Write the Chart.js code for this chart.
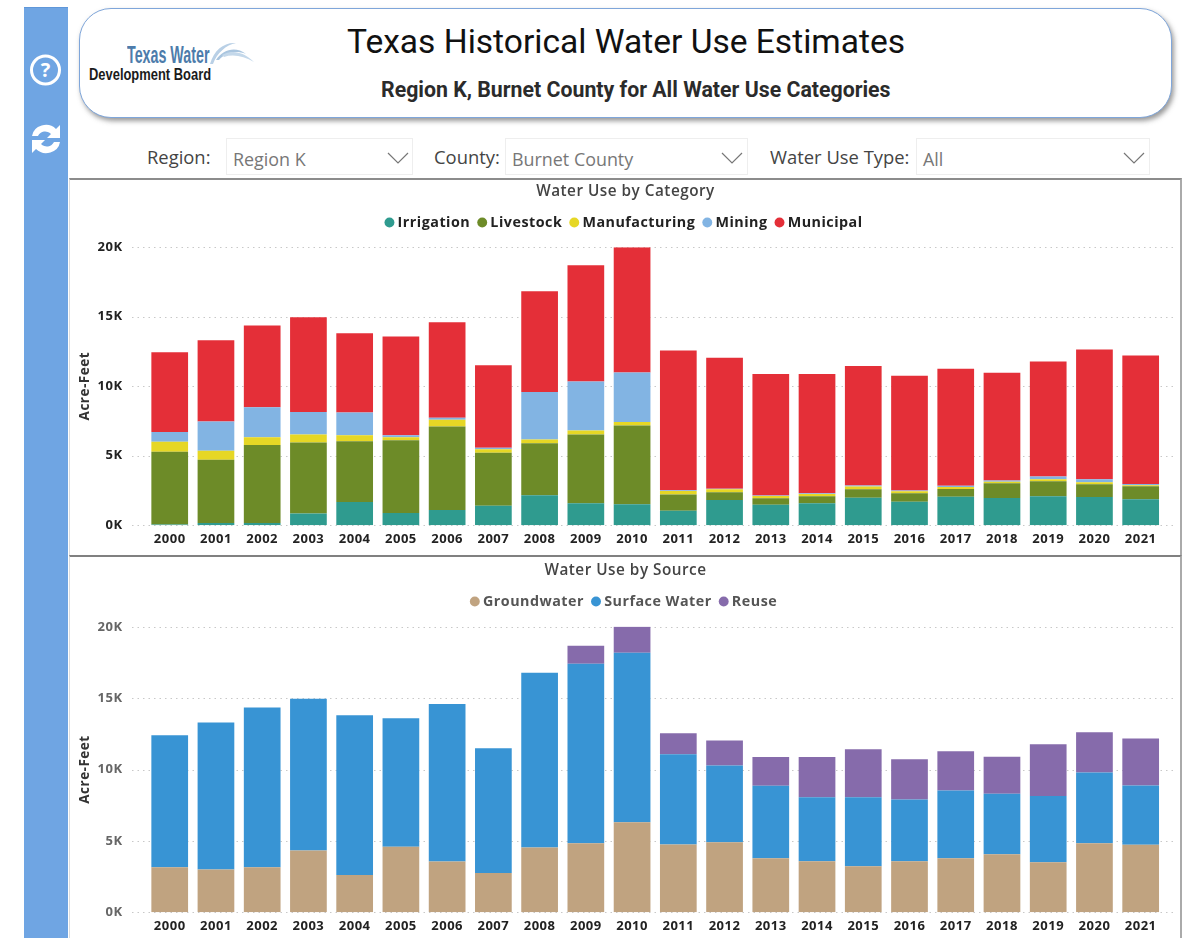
<!DOCTYPE html>
<html>
<head>
<meta charset="utf-8">
<title>Texas Historical Water Use Estimates</title>
<script src="https://cdn.jsdelivr.net/npm/chart.js@4"></script>
<style>
  html, body { margin: 0; padding: 0; background: #fff; overflow: hidden; }
  body { width: 1190px; height: 938px; position: relative; font-family: "Open Sans", sans-serif; }
  .abs { position: absolute; white-space: nowrap; }
  #sidebar { left: 24px; top: 7px; width: 44px; height: 931px; background: #6fa5e3; border-top: 1px solid #5f97d9; box-sizing: border-box; }
  #header { left: 79px; top: 8px; width: 1093px; height: 110px; box-sizing: border-box; border: 1.5px solid #7fa6da; border-radius: 32px; background: #fff; box-shadow: 2px 3px 5px rgba(70, 70, 70, .55); }
  #title { left: 347px; top: 22px; font: 400 33.55px "Roboto", sans-serif; color: #111; }
  #subtitle { left: 381px; top: 77px; font: 700 21.3px "Roboto", sans-serif; color: #2b2b2b; }
  #logo1 { left: 127px; top: 42px; font: 700 23px "Liberation Sans", sans-serif; color: #4d7cab; transform-origin: left top; transform: scaleX(.62); }
  #logo2 { left: 89px; top: 65px; font: 700 17px "Liberation Sans", sans-serif; color: #1b1b1b; transform-origin: left top; transform: scaleX(.76); }
  .lbl { font-size: 18.4px; color: #444; top: 144px; }
  .box { top: 138px; height: 37px; box-sizing: border-box; border: 1px solid #eee; }
  .val { font-size: 17.9px; color: #777; top: 147px; }
  #frame1, #frame2 { left: 69px; width: 1113px; box-sizing: border-box; border-left: 1px solid #ddd; border-right: 2px solid #aaa; }
  #frame1 { top: 178px; height: 378px; border-top: 2px solid #8c8c8c; }
  #frame2 { top: 555px; height: 383px; border-top: 2px solid #808080; }
  canvas { position: absolute; left: 70px; }
  #categoryChart { top: 180px; }
  #sourceChart { top: 558px; }
</style>
</head>
<body>
<div class="abs" id="sidebar"></div>
<svg class="abs" style="left:24px;top:50px" width="44" height="110" viewBox="0 0 44 110">
  <circle cx="21.5" cy="20" r="14" fill="none" stroke="#fff" stroke-width="3"/>
  <text x="21.5" y="27" text-anchor="middle" font-family="Open Sans" font-weight="700" font-size="20" fill="#fff">?</text>
  <path d="M8 86 a14 13 0 0 1 24 -7 l4 -4 v13 h-13 l4 -4 a8 8 0 0 0 -13 2 z" fill="#fff"/>
  <path d="M36 92 a14 13 0 0 1 -24 7 l-4 4 v-13 h13 l-4 4 a8 8 0 0 0 13 -2 z" fill="#fff"/>
</svg>
<div class="abs" id="header"></div>
<div class="abs" id="title">Texas Historical Water Use Estimates</div>
<div class="abs" id="subtitle">Region K, Burnet County for All Water Use Categories</div>
<div class="abs" id="logo1">Texas Water</div>
<div class="abs" id="logo2">Development Board</div>
<svg class="abs" style="left:208px;top:40px" width="48" height="26" viewBox="0 0 48 26">
  <path d="M2 24 C6 10 16 2 28 3 C18 5 9 13 5 24 Z" fill="#b9d0e6"/>
  <path d="M8 20 C15 9 28 6 38 14 C28 10 18 12 11 20 Z" fill="#a9c5df"/>
  <path d="M14 15 C24 9 36 12 46 22 C36 16 25 14 16 17 Z" fill="#c4d8ea"/>
</svg>

<div class="abs lbl" style="left:147px">Region:</div>
<div class="abs box" style="left:226px;width:187px"></div>
<div class="abs val" style="left:233px">Region K</div>
<div class="abs lbl" style="left:434px">County:</div>
<div class="abs box" style="left:505px;width:243px"></div>
<div class="abs val" style="left:512px">Burnet County</div>
<div class="abs lbl" style="left:770px">Water Use Type:</div>
<div class="abs box" style="left:916px;width:234px"></div>
<div class="abs val" style="left:923px">All</div>
<svg class="abs" style="left:0;top:150px" width="1190" height="20">
  <path d="M388 3 l10 10 l10 -10 M722 3 l10 10 l10 -10 M1124 3 l10 10 l10 -10" fill="none" stroke="#777" stroke-width="1.2"/>
</svg>

<div class="abs" id="frame1"></div>
<div class="abs" id="frame2"></div>
<canvas id="categoryChart" width="1111" height="377"></canvas>
<canvas id="sourceChart" width="1111" height="386"></canvas>

<script>
const years = ["2000", "2001", "2002", "2003", "2004", "2005", "2006", "2007", "2008", "2009", "2010",
    "2011", "2012", "2013", "2014", "2015", "2016", "2017", "2018", "2019", "2020", "2021"];

// Water use by category, acre-feet
const irrigation = [50, 150, 150, 850, 1670, 870, 1090, 1400, 2150, 1570, 1500, 1040, 1810, 1470, 1570, 1980, 1690, 2050, 1960, 2080, 2030, 1860];
const livestock = [5240, 4550, 5620, 5090, 4370, 5240, 6010, 3820, 3740, 4950, 5670, 1160, 560, 460, 510, 600, 600, 560, 1060, 1080, 920, 940];
const manufacturing = [710, 660, 560, 580, 430, 220, 480, 240, 270, 290, 250, 260, 210, 170, 170, 200, 150, 140, 100, 150, 140, 70];
const mining = [700, 2100, 2150, 1620, 1630, 140, 150, 120, 3430, 3530, 3570, 50, 50, 30, 50, 70, 50, 80, 90, 190, 220, 100];
const municipal = [5740, 5840, 5890, 6810, 5700, 7100, 6870, 5920, 7240, 8360, 9010, 10050, 9420, 8740, 8570, 8600, 8260, 8430, 7750, 8270, 9320, 9230];

// Water use by source, acre-feet
const groundwater = [3150, 3000, 3150, 4320, 2610, 4580, 3550, 2750, 4540, 4840, 6300, 4750, 4910, 3780, 3570, 3220, 3570, 3780, 4070, 3500, 4840, 4720];
const surfaceWater = [9260, 10300, 11200, 10640, 11190, 9020, 11050, 8740, 12240, 12570, 11890, 6320, 5380, 5080, 4490, 4840, 4330, 4750, 4230, 4650, 4960, 4160];
const reuse = [0, 0, 0, 0, 0, 0, 0, 0, 0, 1270, 1830, 1480, 1740, 2020, 2820, 3360, 2820, 2750, 2600, 3620, 2820, 3290];

const uiFont = '"Open Sans", sans-serif';

// gridlines run past the category band on both sides, so they are drawn here from the y scale
const dottedGrid = {
    id: "dottedGrid",
    beforeUpdate(chart) {
        chart.ctx.letterSpacing = "0.5px";
    },
    beforeDatasetsDraw(chart) {
        const ctx = chart.ctx;
        const yScale = chart.scales.y;
        ctx.save();
        ctx.strokeStyle = "#c8c8c8";
        ctx.lineWidth = 1;
        ctx.setLineDash([1.5, 4]);
        yScale.ticks.forEach(function (tick) {
            const y = Math.round(yScale.getPixelForValue(tick.value)) + 0.5;
            ctx.beginPath();
            ctx.moveTo(62, y);
            ctx.lineTo(1107, y);
            ctx.stroke();
        });
        ctx.restore();
    }
};

function legendGap(extra) {
    return {
        id: "legendGap",
        beforeInit(chart) {
            const fit = chart.legend.fit;
            chart.legend.fit = function () {
                fit.bind(chart.legend)();
                this.height += extra;
            };
        }
    };
}

function makeChart(id, datasets, opts) {
    return new Chart(document.getElementById(id).getContext("2d"), {
        type: "bar",
        data: { labels: years, datasets: datasets },
        plugins: [dottedGrid, legendGap(opts.legendExtra)],
        options: {
            responsive: false,
            animation: false,
            datasets: { bar: { categoryPercentage: 1, barPercentage: 0.794 } },
            plugins: {
                tooltip: { enabled: false },
                title: {
                    display: true,
                    text: opts.title,
                    color: "#444",
                    font: { family: uiFont, size: 15.3, weight: "600" },
                    padding: { top: opts.titleTop, bottom: 4 }
                },
                legend: {
                    position: "top",
                    labels: {
                        usePointStyle: true,
                        pointStyle: "circle",
                        boxWidth: 2,
                        boxHeight: 7,
                        padding: 11,
                        color: opts.legendColor,
                        font: { family: uiFont, size: 14.3, weight: "700" }
                    }
                }
            },
            scales: {
                x: {
                    stacked: true,
                    grid: { display: false, drawTicks: false },
                    border: { display: false },
                    ticks: {
                        color: "#222",
                        padding: 6,
                        maxRotation: 0,
                        autoSkip: false,
                        font: { family: uiFont, size: 13, weight: "700" }
                    }
                },
                y: {
                    stacked: true,
                    min: 0,
                    max: 20000,
                    grid: { display: false, drawTicks: false },
                    border: { display: false },
                    ticks: {
                        stepSize: 5000,
                        color: opts.yTickColor,
                        padding: 24,
                        font: { family: uiFont, size: 13, weight: "700" },
                        callback: function (value) { return value / 1000 + "K"; }
                    },
                    title: {
                        display: true,
                        text: "Acre-Feet",
                        color: "#333",
                        padding: { top: 7, bottom: 0 },
                        font: { family: uiFont, size: 13.5, weight: "700" }
                    },
                    afterFit(scale) { scale.width = 76.6; }
                },
                // empty axis, only keeps the right margin so title and legend stay centred on the canvas
                yRight: {
                    position: "right",
                    grid: { display: false, drawTicks: false },
                    border: { display: false },
                    ticks: { display: false },
                    afterFit(scale) { scale.width = 17.2; }
                }
            }
        }
    });
}

makeChart("categoryChart", [
    { label: "Irrigation", data: irrigation, backgroundColor: "#2f9b8f" },
    { label: "Livestock", data: livestock, backgroundColor: "#6d8b28" },
    { label: "Manufacturing", data: manufacturing, backgroundColor: "#e6d725" },
    { label: "Mining", data: mining, backgroundColor: "#82b4e3" },
    { label: "Municipal", data: municipal, backgroundColor: "#e42f38" }
], { title: "Water Use by Category", titleTop: 2, legendColor: "#222", yTickColor: "#222", legendExtra: 7.5 });

makeChart("sourceChart", [
    { label: "Groundwater", data: groundwater, backgroundColor: "#c0a380" },
    { label: "Surface Water", data: surfaceWater, backgroundColor: "#3894d4" },
    { label: "Reuse", data: reuse, backgroundColor: "#866bab" }
], { title: "Water Use by Source", titleTop: 3, legendColor: "#555", yTickColor: "#666", legendExtra: 8.2 });
</script>
</body>
</html>
